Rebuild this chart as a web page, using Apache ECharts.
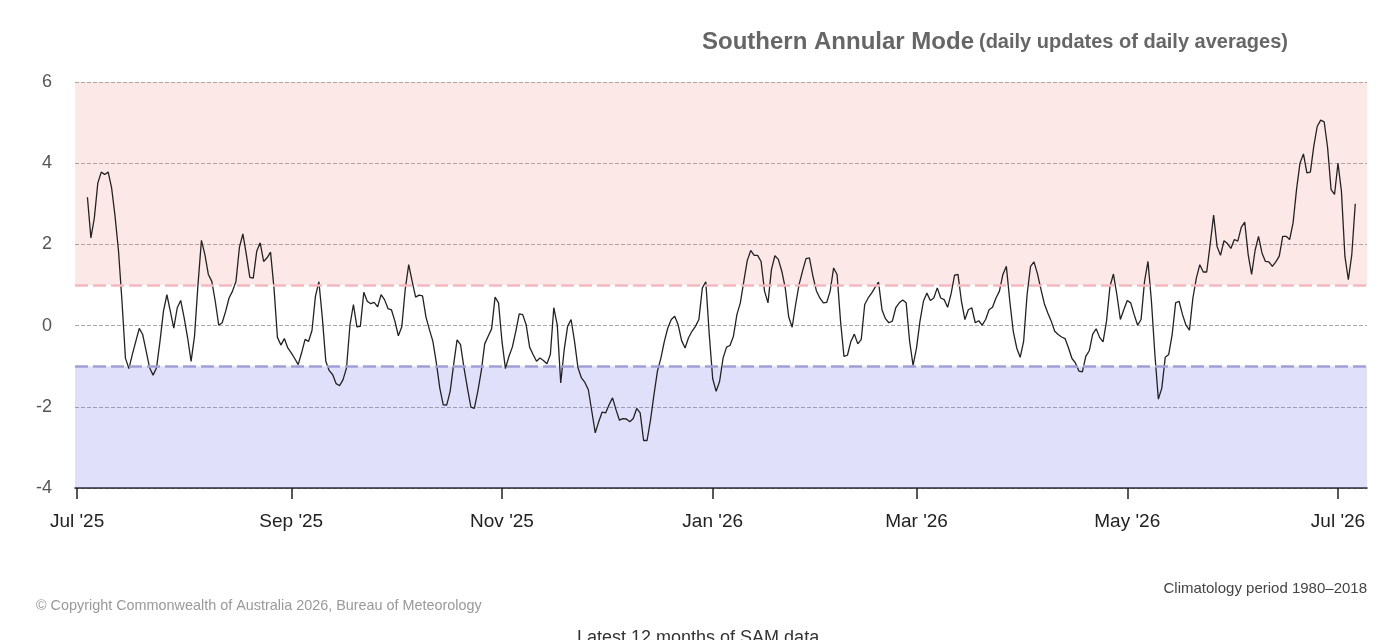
<!DOCTYPE html>
<html>
<head>
  <meta charset="UTF-8">
  <title>Southern Annular Mode</title>
  <style>
    html, body { margin: 0; padding: 0; background: #fff; }
    #sam-chart { width: 1390px; height: 640px; }
  </style>
  <script type="text/javascript" src="https://cdn.jsdelivr.net/npm/echarts@6/dist/echarts.min.js"></script>
</head>
<body>
  <div id="sam-chart"></div>
  <script>
    // first value is for 4 Jul 2025, one value per day after that
    var firstDay = [2025, 6, 4];
    var samValues = [
      3.16, 2.16, 2.65, 3.51, 3.78, 3.72, 3.78, 3.39, 2.69, 1.83,
      0.6, -0.8, -1.06, -0.71, -0.39, -0.07, -0.22, -0.63, -1.04, -1.22,
      -1.04, -0.39, 0.35, 0.76, 0.35, -0.06, 0.44, 0.62, 0.19, -0.3,
      -0.88, -0.26, 1.01, 2.1, 1.75, 1.26, 1.09, 0.6, 0.01, 0.07,
      0.35, 0.68, 0.85, 1.09, 1.93, 2.26, 1.75, 1.19, 1.17, 1.83,
      2.04, 1.58, 1.67, 1.81, 0.93, -0.29, -0.48, -0.32, -0.55, -0.67,
      -0.81, -0.96, -0.67, -0.34, -0.39, -0.12, 0.72, 1.08, 0.19, -0.88,
      -1.11, -1.21, -1.43, -1.48, -1.33, -1.04, 0.02, 0.52, -0.03, -0.02,
      0.82, 0.6, 0.54, 0.57, 0.46, 0.76, 0.64, 0.42, 0.39, 0.11,
      -0.25, -0.03, 0.9, 1.5, 1.09, 0.7, 0.75, 0.73, 0.21, -0.1,
      -0.39, -0.92, -1.54, -1.95, -1.96, -1.62, -0.96, -0.35, -0.47, -1.04,
      -1.54, -2.01, -2.04, -1.62, -1.12, -0.45, -0.26, -0.08, 0.7, 0.56,
      -0.39, -1.06, -0.76, -0.53, -0.14, 0.29, 0.27, 0.02, -0.53, -0.71,
      -0.88, -0.8, -0.86, -0.94, -0.71, 0.44, 0.02, -1.41, -0.6, -0.02,
      0.15, -0.39, -1.04, -1.29, -1.4, -1.58, -2.11, -2.64, -2.37, -2.13,
      -2.15, -1.95, -1.78, -2.07, -2.33, -2.29, -2.3, -2.37, -2.29, -2.04,
      -2.15, -2.83, -2.83, -2.32, -1.7, -1.12, -0.8, -0.39, -0.06, 0.15,
      0.23, 0.02, -0.37, -0.55, -0.3, -0.14, -0.02, 0.15, 0.93, 1.08,
      -0.22, -1.31, -1.62, -1.37, -0.8, -0.53, -0.49, -0.26, 0.27, 0.56,
      1.09, 1.6, 1.85, 1.73, 1.73, 1.58, 0.85, 0.56, 1.38, 1.72,
      1.63, 1.34, 0.93, 0.21, -0.04, 0.52, 1.01, 1.34, 1.65, 1.67,
      1.22, 0.86, 0.68, 0.56, 0.57, 0.85, 1.42, 1.26, 0.11, -0.76,
      -0.73, -0.39, -0.21, -0.45, -0.34, 0.52, 0.68, 0.8, 0.94, 1.07,
      0.39, 0.17, 0.07, 0.11, 0.44, 0.56, 0.63, 0.56, -0.39, -0.98,
      -0.55, 0.11, 0.6, 0.8, 0.62, 0.68, 0.93, 0.68, 0.64, 0.45,
      0.78, 1.24, 1.26, 0.6, 0.15, 0.39, 0.44, 0.07, 0.12, 0.01,
      0.15, 0.39, 0.45, 0.68, 0.85, 1.26, 1.46, 0.6, -0.14, -0.55,
      -0.78, -0.39, 0.76, 1.46, 1.57, 1.28, 0.9, 0.54, 0.31, 0.11,
      -0.14, -0.22, -0.28, -0.32, -0.55, -0.81, -0.92, -1.12, -1.14, -0.76,
      -0.62, -0.21, -0.08, -0.29, -0.4, 0.11, 0.97, 1.27, 0.76, 0.15,
      0.39, 0.62, 0.56, 0.27, 0.01, 0.15, 1.09, 1.58, 0.6, -0.71,
      -1.81, -1.54, -0.78, -0.71, -0.22, 0.56, 0.6, 0.27, 0.01, -0.11,
      0.68, 1.17, 1.5, 1.32, 1.32, 2.0, 2.72, 1.95, 1.73, 2.09,
      2.02, 1.9, 2.12, 2.08, 2.42, 2.55, 1.75, 1.26, 1.85, 2.2,
      1.79, 1.58, 1.57, 1.46, 1.57, 1.71, 2.2, 2.2, 2.12, 2.53,
      3.35, 4.0, 4.23, 3.76, 3.78, 4.42, 4.91, 5.06, 5.02, 4.38,
      3.35, 3.23, 4.0, 3.31, 1.71, 1.13, 1.75, 3.0
    ];

    // x axis labels, every second month
    var tickMonths = [[2025, 6], [2025, 8], [2025, 10], [2026, 0], [2026, 2], [2026, 4], [2026, 6]];
    var monthNames = ['Jan', 'Feb', 'Mar', 'Apr', 'May', 'Jun', 'Jul', 'Aug', 'Sep', 'Oct', 'Nov', 'Dec'];
    var yTicks = { min: -4, max: 6, step: 2 };
    var positiveLimit = 1;
    var negativeLimit = -1;

    var DAY = 24 * 3600 * 1000;
    var axisStart = Date.UTC(2025, 6, 1) - 0.6 * DAY;
    var axisEnd = Date.UTC(2025, 6, 1) + 373.4 * DAY;

    var seriesData = [];
    for (var i = 0; i < samValues.length; i++) {
      seriesData.push([Date.UTC(firstDay[0], firstDay[1], firstDay[2] + i), samValues[i]]);
    }

    var tickValues = tickMonths.map(function (m) {
      return Date.UTC(m[0], m[1], 1);
    });

    var myChart = echarts.init(document.getElementById('sam-chart'));
    var font = '"Liberation Sans", Arial, sans-serif';

    var option = {
      backgroundColor: '#fff',
      animation: false,
      textStyle: { fontFamily: font },
      title: {
        text: '{a|Southern Annular Mode} {b|(daily updates of daily averages)}',
        left: 697,
        top: 25,
        textStyle: {
          rich: {
            a: { fontSize: 24, fontWeight: 'bold', color: '#666', fontFamily: font },
            b: { fontSize: 20, fontWeight: 'bold', color: '#666', fontFamily: font }
          }
        }
      },
      grid: { left: 75, right: 23, top: 82, bottom: 152 },
      xAxis: {
        type: 'value',
        min: axisStart,
        max: axisEnd,
        axisLine: { show: true, onZero: false, lineStyle: { color: '#222', width: 1.5 } },
        axisTick: { show: true, length: 11, customValues: tickValues, lineStyle: { color: '#222', width: 1.5 } },
        splitLine: { show: false },
        axisLabel: {
          customValues: tickValues,
          fontSize: 19,
          color: '#222',
          margin: 24,
          formatter: function (val) {
            var d = new Date(val);
            return monthNames[d.getUTCMonth()] + " '" + String(d.getUTCFullYear()).slice(2);
          }
        }
      },
      yAxis: {
        type: 'value',
        min: yTicks.min,
        max: yTicks.max,
        interval: yTicks.step,
        axisLine: { show: false },
        axisTick: { show: false },
        axisLabel: { fontSize: 18, color: '#555', margin: 23 },
        splitLine: { show: true, lineStyle: { color: '#aaa', type: [4, 2], width: 1 } }
      },
      series: [
        {
          name: 'SAM',
          type: 'line',
          data: seriesData,
          showSymbol: false,
          symbol: 'none',
          silent: true,
          lineStyle: { color: '#222', width: 1.3 },
          markArea: {
            silent: true,
            data: [
              [{ yAxis: positiveLimit, itemStyle: { color: 'rgba(245,120,120,0.17)' } }, { yAxis: yTicks.max }],
              [{ yAxis: yTicks.min, itemStyle: { color: 'rgba(100,100,230,0.2)' } }, { yAxis: negativeLimit }]
            ]
          },
          markLine: {
            silent: true,
            symbol: 'none',
            label: { show: false },
            data: [
              { yAxis: positiveLimit, lineStyle: { color: '#f5b8be', width: 2.5, type: [13, 5] } },
              { yAxis: negativeLimit, lineStyle: { color: '#a0a0d6', width: 2.5, type: [13, 5] } }
            ]
          }
        }
      ],
      graphic: [
        {
          type: 'text', right: 23, top: 581,
          style: { text: 'Climatology period 1980\u20132018', fill: '#444', font: '15px ' + font }
        },
        {
          type: 'text', left: 36, top: 599,
          style: { text: '\u00a9 Copyright Commonwealth of Australia 2026, Bureau of Meteorology', fill: '#999', font: '14.4px ' + font }
        },
        {
          type: 'text', left: 577, top: 629,
          style: { text: 'Latest 12 months of SAM data', fill: '#333', font: '18px ' + font }
        }
      ]
    };

    myChart.setOption(option);
  </script>
</body>
</html>
